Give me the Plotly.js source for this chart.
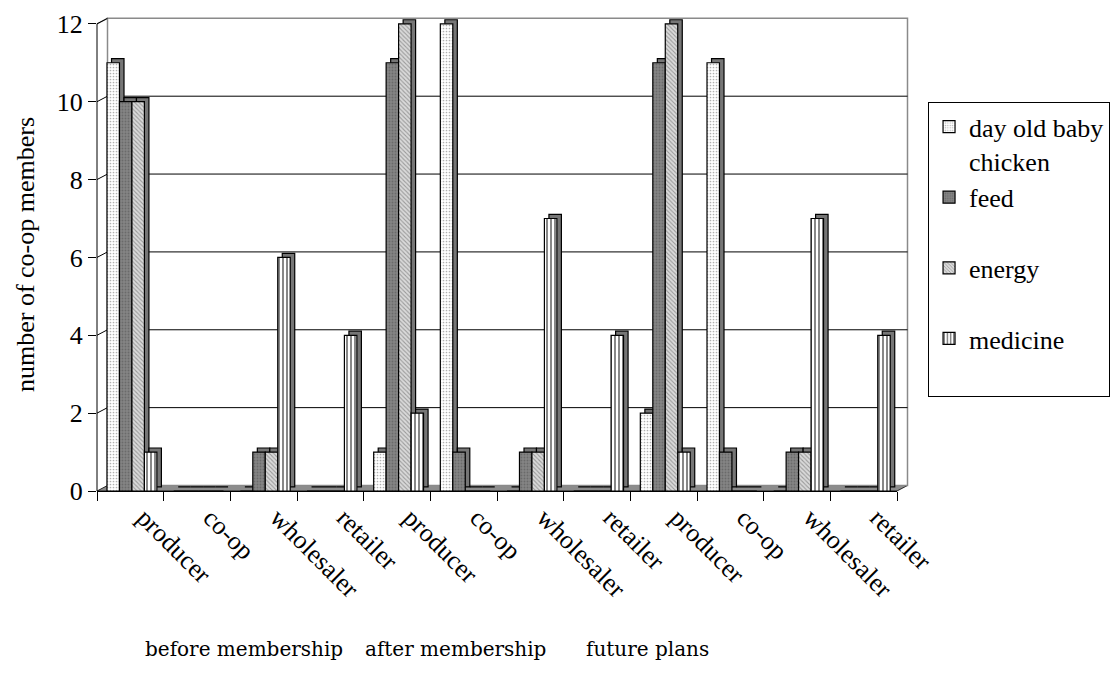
<!DOCTYPE html>
<html><head><meta charset="utf-8">
<script src="https://cdn.plot.ly/plotly-3.0.1.min.js"></script>
<style>html,body{margin:0;padding:0;background:#fff}#chart{width:1120px;height:686px}</style>
</head><body><div id="chart"></div>
<script>
// ---- data ----
const categories = ["producer","co-op","wholesaler","retailer","producer","co-op","wholesaler","retailer","producer","co-op","wholesaler","retailer"];
const groupLabels = ["before membership","after membership","future plans"];
const seriesNames = ["day old baby<br>chicken","feed<br>\u00a0","energy<br>\u00a0","medicine<br>\u00a0"];
const dayOldChicken = [11,0,0,0,1,12,0,0,2,11,0,0];
const feed          = [10,0,1,0,11,1,1,0,11,1,1,0];
const energy        = [10,0,1,0,12,0,1,0,12,0,1,0];
const medicine      = [1,0,6,4,2,0,7,4,1,0,7,4];
const yTicks = [0,2,4,6,8,10,12];
const yTitle = "number of co-op members";

// ---- styling / geometry ----
const FONT = "Liberation Serif";
const series = [dayOldChicken, feed, energy, medicine];
const styles = [
  {color:"#ffffff", pattern:{shape:".", fgcolor:"#b0b0b0", bgcolor:"#ffffff", size:3, solidity:0.25}},
  {color:"#808080", pattern:{shape:".", fgcolor:"#6a6a6a", bgcolor:"#858585", size:3, solidity:0.3}},
  {color:"#d0d0d0", pattern:{shape:"\\", fgcolor:"#9a9a9a", bgcolor:"#dadada", size:3, solidity:0.35}},
  {color:"#ffffff", pattern:{shape:"|", fgcolor:"#7a7a7a", bgcolor:"#ffffff", size:4, solidity:0.45}}
];
const xIdx = categories.map((c,i)=>i);
const barW = 0.187, firstOff = -0.35;
const depthX = 0.068, depthY = 0.105;   // fake 3-D extrusion (data units)
const yTop = 12.15;
const wallDx = 10.5/800, wallDy = 5.5/473; // paper units

const traces = [];
series.forEach((vals,i)=>{
  traces.push({type:"bar", x:xIdx, y:vals, base:depthY, offset:firstOff+i*barW+depthX, width:barW,
    marker:{color:"#767676", line:{color:"#000", width:1.2}}, showlegend:false, hoverinfo:"skip"});
});
series.forEach((vals,i)=>{
  traces.push({type:"bar", x:xIdx, y:vals, offset:firstOff+i*barW, width:barW, name:seriesNames[i],
    marker:{color:styles[i].color, pattern:styles[i].pattern, line:{color:"#000", width:1.2}}});
});

const shapes = [];
// floor
shapes.push({type:"path", xref:"paper", yref:"paper", layer:"below",
  path:`M0,0 L1,0 L${1+wallDx},${wallDy} L${wallDx},${wallDy} Z`, fillcolor:"#8c8c8c", line:{color:"#000", width:0.8}});
// back wall
shapes.push({type:"rect", xref:"paper", yref:"paper", layer:"below",
  x0:wallDx, x1:1+wallDx, y0:wallDy, y1:12/yTop+wallDy, line:{color:"#8a8a8a", width:1.5}});
// left wall top edge
shapes.push({type:"line", xref:"paper", yref:"paper", layer:"below",
  x0:0, y0:12/yTop, x1:wallDx, y1:12/yTop+wallDy, line:{color:"#8a8a8a", width:1.5}});
// gridlines on back wall + slanted on left wall
yTicks.forEach(v=>{
  if (v>0 && v<12) {
    shapes.push({type:"line", xref:"paper", yref:"paper", layer:"below",
      x0:wallDx, x1:1+wallDx, y0:v/yTop+wallDy, y1:v/yTop+wallDy, line:{color:"#000", width:1}});
  }
  if (v>0) {
    shapes.push({type:"line", xref:"paper", yref:"paper", layer:"below",
      x0:0, x1:wallDx, y0:v/yTop, y1:v/yTop+wallDy, line:{color:"#000", width:1}});
  }
});
// front vertical axis line
shapes.push({type:"line", xref:"paper", yref:"paper", layer:"above",
  x0:0, x1:0, y0:0, y1:12/yTop, line:{color:"#000", width:1}});

const groupX = [0.184, 0.448, 0.688];
const annotations = groupLabels.map((t,i)=>({text:t, xref:"paper", yref:"paper", x:groupX[i], y:-0.334,
  xanchor:"center", yanchor:"middle", showarrow:false, font:{family:"DejaVu Serif", size:20, color:"#000"}}));

const layout = {
  width:1120, height:686,
  margin:{l:97, r:223, t:18, b:195, autoexpand:false},
  paper_bgcolor:"#fff", plot_bgcolor:"rgba(0,0,0,0)",
  barmode:"overlay",
  font:{family:FONT, size:26, color:"#000"},
  xaxis:{range:[-0.5,11.5], tickmode:"array", tickvals:xIdx, ticktext:categories, tickangle:45,
    ticks:"", showgrid:false, zeroline:false, showline:true, linecolor:"#000", linewidth:1,
    ticklabelstandoff:0, ticklabelshift:14, tickfont:{family:FONT, size:26},
    minor:{tick0:-0.5, dtick:1, ticks:"outside", ticklen:9, tickcolor:"#000", tickwidth:1, showgrid:false}},
  yaxis:{range:[0,yTop], tickmode:"array", tickvals:yTicks, ticks:"outside", ticklen:8, tickcolor:"#000",
    showgrid:false, zeroline:false, showline:false, tickfont:{family:FONT, size:26},
    title:{text:yTitle, font:{family:FONT, size:26}, standoff:14}},
  legend:{x:1.0388, xanchor:"left", y:0.822, yanchor:"top", bordercolor:"#000", borderwidth:1,
    bgcolor:"#fff", valign:"top", font:{family:FONT, size:26, color:"#000"}, traceorder:"normal"},
  shapes:shapes, annotations:annotations
};
Plotly.newPlot("chart", traces, layout, {staticPlot:true});
</script></body></html>
